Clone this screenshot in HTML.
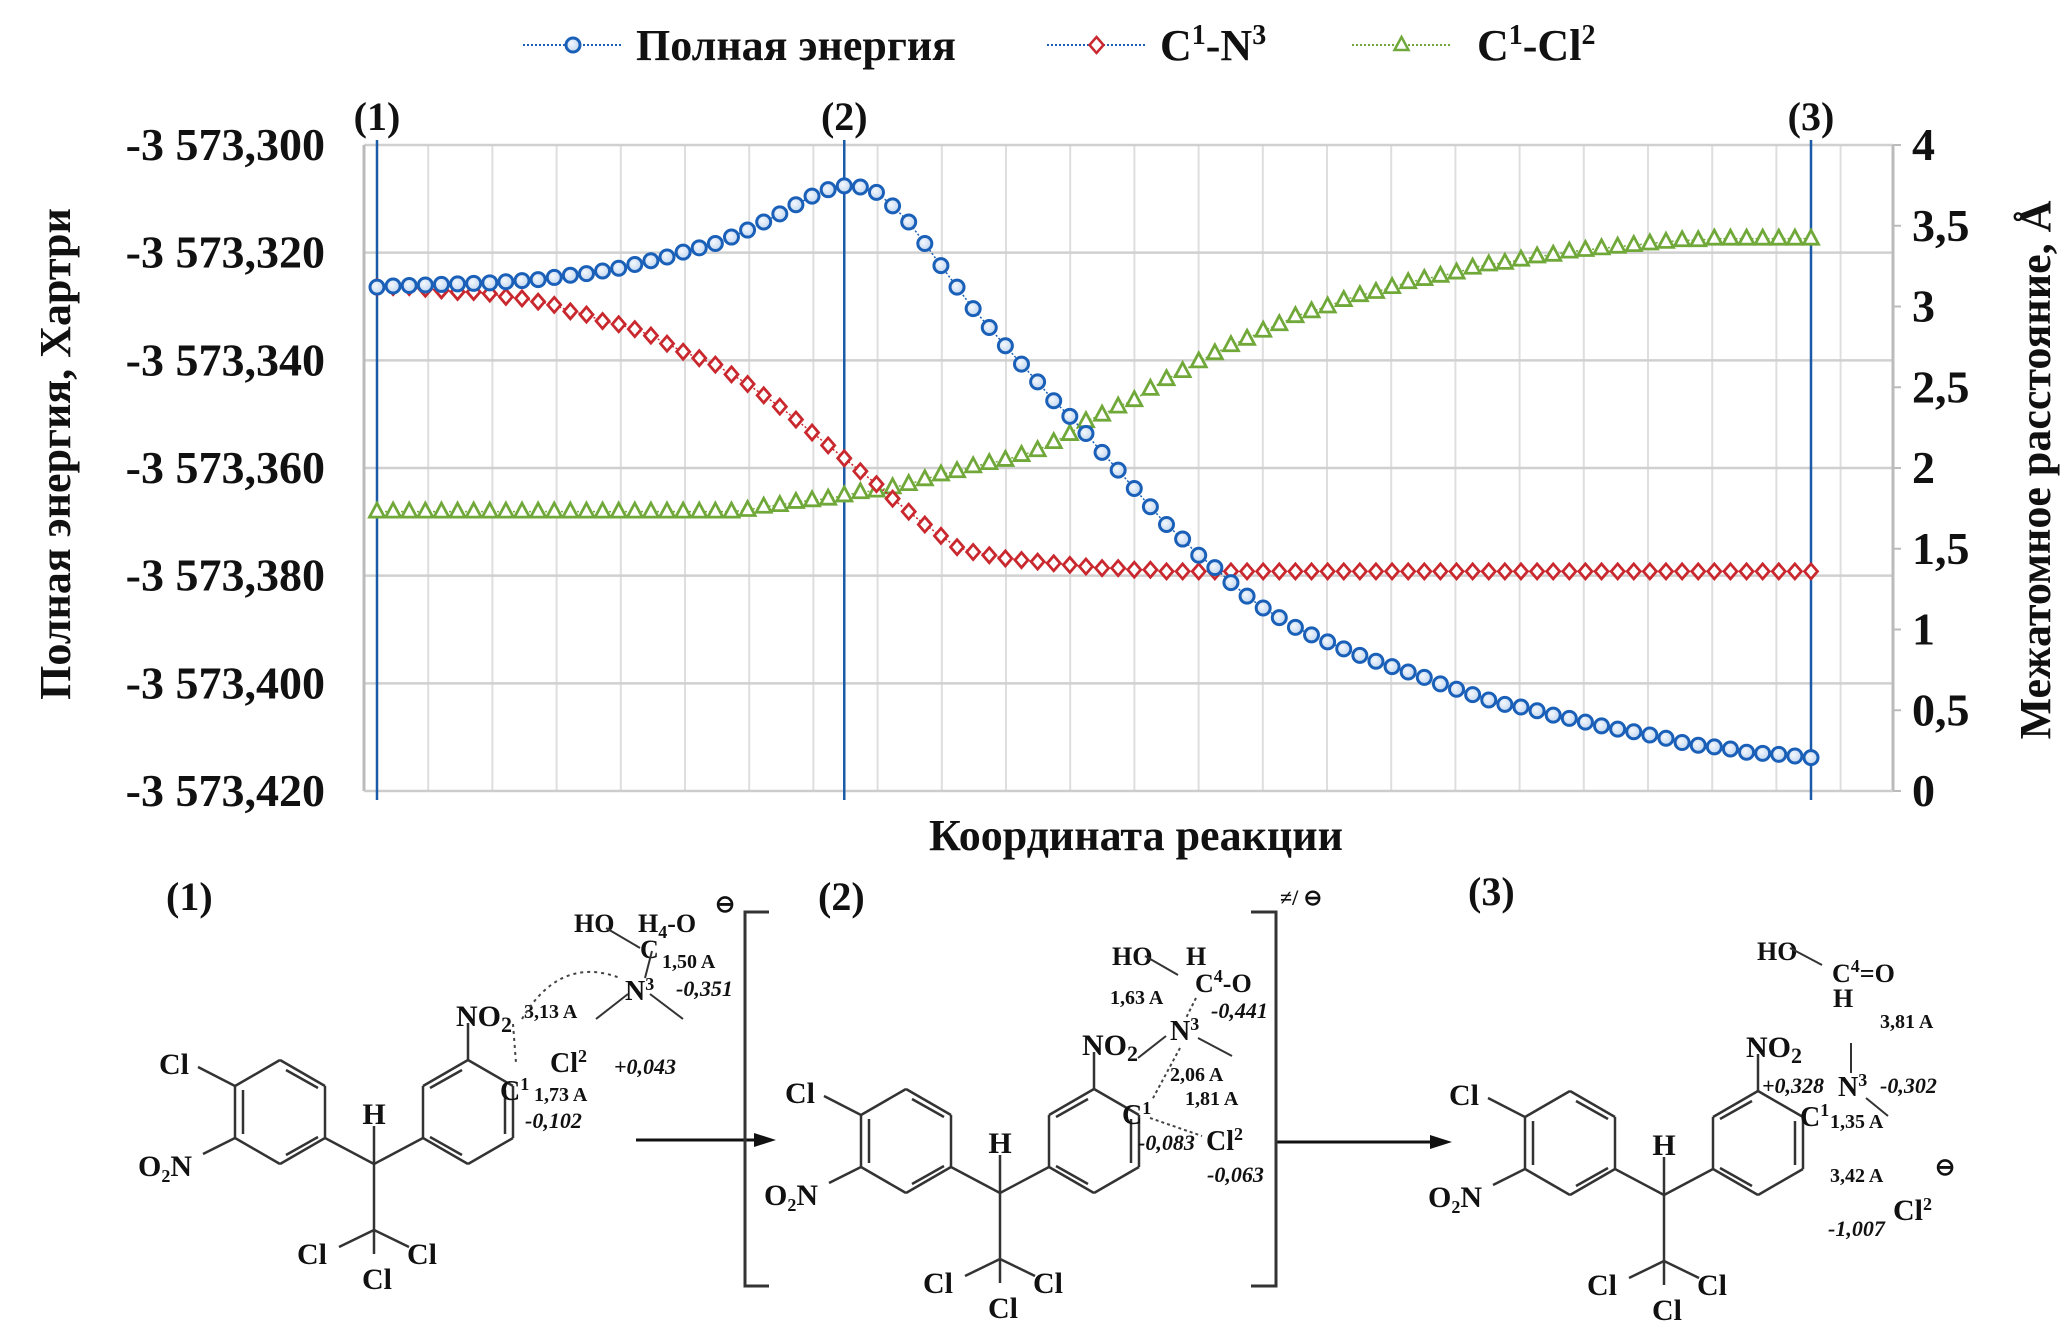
<!DOCTYPE html>
<html><head><meta charset="utf-8"><style>
html,body{margin:0;padding:0;background:#fff;}
svg{display:block;}
text{font-family:"Liberation Serif",serif;font-weight:bold;fill:#111;}
.it{font-style:italic;}
</style></head><body>
<svg id="chart" width="2067" height="1326" viewBox="0 0 2067 1326" xmlns="http://www.w3.org/2000/svg">
<rect width="2067" height="1326" fill="#fff"/>
<g id="grid"></g>
<g id="axes"></g>
<g id="series"></g>
<g id="legend"></g>
<text x="60" y="454" font-size="44" text-anchor="middle" dominant-baseline="middle" transform="rotate(-90 60 454)">Полная энергия, Хартри</text>
<text x="2040" y="470" font-size="44" text-anchor="middle" dominant-baseline="middle" transform="rotate(-90 2040 470)">Межатомное расстояние, Å</text>
<text x="1136" y="850" font-size="44" text-anchor="middle">Координата реакции</text>
<g id="mol"></g>
</svg>
<script>
const NS="http://www.w3.org/2000/svg";
const energy=[-3573.3264,-3573.3262,-3573.3261,-3573.3260,-3573.3259,-3573.3258,-3573.3257,-3573.3256,-3573.3254,-3573.3252,-3573.3250,-3573.3246,-3573.3242,
-3573.3239,-3573.3234,-3573.3229,-3573.3222,-3573.3215,-3573.3208,-3573.3199,-3573.3191,-3573.3183,-3573.3171,-3573.3158,-3573.3143,-3573.3128,-3573.3111,-3573.3095,-3573.3083,-3573.3076,-3573.3078,-3573.3088,-3573.3113,-3573.3143,-3573.3183,-3573.3224,-3573.3264,-3573.3304,-3573.3339,-3573.3373,-3573.3407,-3573.3440,
-3573.3475,-3573.3504,-3573.3536,-3573.3571,-3573.3604,-3573.3638,-3573.3672,-3573.3705,-3573.3732,-3573.3762,-3573.3785,-3573.3813,-3573.3838,-3573.3860,-3573.3878,-3573.3896,-3573.3910,-3573.3923,-3573.3936,-3573.3948,-3573.3959,-3573.3969,-3573.3979,-3573.3989,-3573.4001,-3573.4011,-3573.4021,-3573.4031,-3573.4039,-3573.4044,-3573.4051,-3573.4059,-3573.4065,-3573.4072,-3573.4079,-3573.4085,-3573.4090,-3573.4096,-3573.4102,-3573.4110,-3573.4115,-3573.4118,-3573.4122,-3573.4128,-3573.4130,-3573.4132,-3573.4135,-3573.4138];
const distCN=[3.12,3.12,3.12,3.11,3.10,3.09,3.09,3.08,3.06,3.05,3.03,3.01,2.97,2.95,2.91,2.89,2.86,2.82,2.77,2.72,2.68,2.64,2.58,2.52,2.45,2.38,2.30,2.22,2.14,2.06,
1.98,1.90,1.81,1.73,1.65,1.58,1.51,1.48,1.46,1.44,1.43,1.42,1.41,1.40,1.39,1.38,1.38,1.37,1.37,
1.36,1.36,1.36,1.36,1.36,1.36,1.36,1.36,1.36,1.36,1.36,1.36,1.36,1.36,1.36,1.36,1.36,1.36,1.36,1.36,1.36,1.36,1.36,1.36,1.36,1.36,1.36,1.36,1.36,1.36,1.36,1.36,1.36,1.36,1.36,1.36,1.36,1.36,1.36,1.36,1.36];
const distCCl=[1.73,1.73,1.73,1.73,1.73,1.73,1.73,1.73,1.73,1.73,1.73,1.73,1.73,1.73,1.73,1.73,1.73,1.73,1.73,1.73,1.73,1.73,1.73,
1.74,1.76,1.77,1.79,1.80,1.81,1.83,1.85,1.86,1.88,1.90,1.93,1.96,1.98,2.01,2.03,2.05,2.08,2.11,
2.16,2.21,2.29,2.33,2.38,2.42,2.49,2.55,2.60,2.66,2.71,2.76,2.80,2.85,2.89,2.94,2.97,3.00,3.04,3.07,3.09,3.12,3.15,3.17,3.19,3.21,3.24,3.26,3.27,3.29,3.31,3.32,3.34,3.35,3.36,3.37,3.38,3.39,3.40,3.41,3.41,3.42,3.42,3.42,3.42,3.42,3.42,3.42];
const leftTicks=["-3 573,300","-3 573,320","-3 573,340","-3 573,360","-3 573,380","-3 573,400","-3 573,420"];
const leftTickVals=[-3573.300,-3573.320,-3573.340,-3573.360,-3573.380,-3573.400,-3573.420];
const rightTicks=["0","0,5","1","1,5","2","2,5","3","3,5","4"];
const rightTickVals=[0,0.5,1,1.5,2,2.5,3,3.5,4];
const markerIdx=[0,29,89];
const markerLabels=["(1)","(2)","(3)"];

const PL=364,PR=1893,PT=145,PB=791,X0=377,X1=1811;
const N=energy.length;
function xs(i){return X0+i*(X1-X0)/(N-1);}
function yE(v){return PT+(-3573.300-v)/0.120*(PB-PT);}
function yR(v){return PB-v/4*(PB-PT);}
function mk(tag,attrs,parent,txt){const e=document.createElementNS(NS,tag);for(const k in attrs)e.setAttribute(k,attrs[k]);if(txt!==undefined)e.textContent=txt;parent.appendChild(e);return e;}
const G=document.getElementById('grid'),A=document.getElementById('axes'),S=document.getElementById('series'),L=document.getElementById('legend'),M=document.getElementById('mol');

for(let x=PL+64.2;x<PR-5;x+=64.2){const l=mk('line',{x1:x,y1:PT,x2:x,y2:PB,stroke:'#dedede','stroke-width':2},G);

}
leftTickVals.forEach((v,k)=>{const y=yE(v);
const l=mk('line',{x1:PL,y1:y,x2:PR,y2:y,stroke:'#d0d0d0','stroke-width':2.5},G);


const t=mk('text',{x:325,y:y+15,'font-size':46,'text-anchor':'end'},A,leftTicks[k]);

});
rightTickVals.forEach((v,k)=>{const y=yR(v);
const tm=mk('line',{x1:PR,y1:y,x2:PR+8,y2:y,stroke:'#bbb','stroke-width':2},A);


const t=mk('text',{x:1912,y:y+15,'font-size':46},A,rightTicks[k]);

});
const la=mk('line',{x1:PL,y1:PT,x2:PL,y2:PB,stroke:'#bbb','stroke-width':3},A);


const ra=mk('line',{x1:PR,y1:PT,x2:PR,y2:PB,stroke:'#bbb','stroke-width':3},A);


const ba=mk('line',{x1:PL,y1:PB,x2:PR,y2:PB,stroke:'#ccc','stroke-width':2},A);


markerIdx.forEach((i,k)=>{const x=xs(i);
const l=mk('line',{x1:x,y1:140,x2:x,y2:800,stroke:'#1a5aa8','stroke-width':2.5},A);


const t=mk('text',{x:x,y:130,'font-size':40,'text-anchor':'middle'},A,markerLabels[k]);

});

const defs=mk('defs',{},S);
const gr=mk('radialGradient',{id:'bg',cx:'0.4',cy:'0.4',r:'0.7'},defs);
mk('stop',{offset:'0','stop-color':'#f4f8fd'},gr);mk('stop',{offset:'1','stop-color':'#b8d0ee'},gr);

function series(vals,yf,color,shape,name){
 const pts=vals.map((v,i)=>xs(i)+','+yf(v)).join(' ');
 const pl=mk('polyline',{points:pts,fill:'none',stroke:color,'stroke-width':1.5,'stroke-dasharray':'2 2'},S);
 
 
 vals.forEach((v,i)=>{const x=xs(i),y=yf(v);let e;
  if(shape==='c')e=mk('circle',{cx:x,cy:y,r:7,fill:'url(#bg)',stroke:color,'stroke-width':3},S);
  else if(shape==='d')e=mk('polygon',{points:`${x},${y-7.5} ${x+6.5},${y} ${x},${y+7.5} ${x-6.5},${y}`,fill:'#fff',stroke:color,'stroke-width':2.8},S);
  else e=mk('polygon',{points:`${x},${y-8.5} ${x+7.5},${y+5.5} ${x-7.5},${y+5.5}`,fill:'#fff',stroke:color,'stroke-width':2.8},S);
  
  });
}
series(distCCl,yR,'#70a83a','t','c1-cl2');
series(distCN,yR,'#c8282e','d','c1-n3');
series(energy,yE,'#1a60b8','c','total-energy');

function legendItem(x1,x2,tx,color,shape,label,name){const y=45;
 const l=mk('line',{x1:x1,y1:y,x2:x2,y2:y,stroke:shape==='t'?'#70a83a':'#1a60b8','stroke-width':2,'stroke-dasharray':'2 2'},L);
 
 
 const cx=(x1+x2)/2;let e;
 if(shape==='c')e=mk('circle',{cx:cx,cy:y,r:7,fill:'url(#bg)',stroke:color,'stroke-width':3},L);
 else if(shape==='d')e=mk('polygon',{points:`${cx},${y-8} ${cx+7},${y} ${cx},${y+8} ${cx-7},${y}`,fill:'#fff',stroke:color,'stroke-width':2.5},L);
 else e=mk('polygon',{points:`${cx},${y-8} ${cx+7},${y+5} ${cx-7},${y+5}`,fill:'#fff',stroke:color,'stroke-width':2.5},L);
 
 
 const t=mk('text',{x:tx,y:y+15,'font-size':44},L);t.innerHTML=label;
 
 }
legendItem(523,623,636,'#1a60b8','c','Полная энергия','total-energy');
legendItem(1047,1146,1160,'#c8282e','d','C<tspan dy="-16" font-size="28">1</tspan><tspan dy="16">-N</tspan><tspan dy="-16" font-size="28">3</tspan>','c1-n3');
legendItem(1352,1451,1477,'#70a83a','t','C<tspan dy="-16" font-size="28">1</tspan><tspan dy="16">-Cl</tspan><tspan dy="-16" font-size="28">2</tspan>','c1-cl2');

/* molecules */
const bonds=[[-94,-104,-49,-78],[-49,-78,-49,-26],[-49,-26,-94,0],[-94,0,-139,-26],[-139,-26,-139,-78],[-139,-78,-94,-104],
[94,-104,49,-78],[49,-78,49,-26],[49,-26,94,0],[94,0,139,-26],[139,-26,139,-78],[139,-78,94,-104],
[-49,-26,0,0],[0,0,49,-26],[0,0,0,-38],[0,0,0,66],[0,66,-35,83],[0,66,35,83],[0,66,0,90],
[-139,-78,-176,-97],[-139,-26,-171,-10],[94,-104,94,-141],
[-131,-74,-131,-30],[-88,-94,-56,-76],[-56,-27,-88,-9],[88,-94,56,-76],[56,-27,88,-9],[131,-30,131,-74]];
const labs=[["Cl",-200,-90],["O₂N",-209,12],["H",0,-40],["Cl",-62,100],["Cl",48,100],["Cl",3,125]];
function drawMol(cx,cy){
 bonds.forEach(b=>{const l=mk('line',{x1:cx+b[0],y1:cy+b[1],x2:cx+b[2],y2:cy+b[3],stroke:'#333','stroke-width':2.5},M);
  
  });
 labs.forEach(s=>{const t=mk('text',{x:cx+s[1],y:cy+s[2],'font-size':30,'text-anchor':'middle'},M,s[0]);
  
  });
 const t=mk('text',{x:cx+110,y:cy-138,'font-size':30,'text-anchor':'middle'},M);t.innerHTML='NO<tspan font-size="22" dy="6">2</tspan>';
 
 
}
drawMol(374,1164);drawMol(1000,1193);drawMol(1664,1195);

function T(x,y,s,fs,color,it,name){const t=mk('text',{x:x,y:y,'font-size':fs,fill:color||'#111'},M);t.innerHTML=s;if(it)t.setAttribute('font-style','italic');
 
 return t;}
const sup=(s)=>`<tspan dy="-10" font-size="18">${s}</tspan><tspan dy="10"> </tspan>`;
// stage 1
T(166,910,'(1)',40,null,0,'stage-1-label');
T(574,932,'HO',26,null,0,'s1-ho');
T(638,932,'H<tspan font-size="18" dy="6">4</tspan><tspan dy="-6">-O</tspan>',26,null,0,'s1-h4o');
T(715,912,'⊖',24,null,0,'s1-charge');
T(640,958,'C',26,null,0,'s1-c4');
T(662,968,'1,50 A',20,null,0,'s1-dist-150');
T(625,1000,'N'+sup('3'),28,null,0,'s1-n3');
T(676,996,'-0,351',22,'#2a2a9a',1,'s1-charge-n3');
T(524,1018,'3,13 A',20,null,0,'s1-dist-313');
T(500,1100,'C'+sup('1'),28,null,0,'s1-c1');
T(550,1072,'Cl'+sup('2'),28,null,0,'s1-cl2');
T(614,1074,'+0,043',22,'#e01818',1,'s1-charge-cl2');
T(534,1101,'1,73 A',20,null,0,'s1-dist-173');
T(525,1128,'-0,102',22,'#2a2a9a',1,'s1-charge-c1');
[[596,1019,628,994],[650,994,683,1019],[652,951,645,978],[606,928,640,948]].forEach(b=>{const l=mk('line',{x1:b[0],y1:b[1],x2:b[2],y2:b[3],stroke:'#333','stroke-width':2},M);
 
 });
const arc=mk('path',{d:'M522 1019 Q560 955 620 978',fill:'none',stroke:'#444','stroke-width':2,'stroke-dasharray':'3 4'},M);


const arc2=mk('path',{d:'M513 1024 L516 1063',fill:'none',stroke:'#444','stroke-width':2,'stroke-dasharray':'3 4'},M);


[[636,776,1140],[1276,1452,1142]].forEach(a=>{const l=mk('line',{x1:a[0],y1:a[2],x2:a[1]-14,y2:a[2],stroke:'#111','stroke-width':3},M);
 
 
 const h=mk('polygon',{points:`${a[1]},${a[2]} ${a[1]-22},${a[2]-7} ${a[1]-22},${a[2]+7}`,fill:'#111'},M);
 
 });
const br1=mk('path',{d:'M769 912 H745 V1286 H769',fill:'none',stroke:'#333','stroke-width':3},M);


const br2=mk('path',{d:'M1251 912 H1276 V1286 H1251',fill:'none',stroke:'#333','stroke-width':3},M);


T(1280,905,'≠/ ⊖',22,null,0,'ts-symbol');
// stage 2
T(818,910,'(2)',40,null,0,'stage-2-label');
T(1112,965,'HO',26,null,0,'s2-ho');
T(1186,965,'H',26,null,0,'s2-h');
T(1195,992,'C<tspan font-size="18" dy="-10">4</tspan><tspan dy="10">-O</tspan>',26,null,0,'s2-c4o');
T(1110,1004,'1,63 A',20,null,0,'s2-dist-163');
T(1170,1040,'N'+sup('3'),28,null,0,'s2-n3');
T(1211,1018,'-0,441',22,'#2a2a9a',1,'s2-charge-n3');
T(1170,1081,'2,06 A',20,null,0,'s2-dist-206');
T(1122,1124,'C'+sup('1'),28,null,0,'s2-c1');
T(1185,1105,'1,81 A',20,null,0,'s2-dist-181');
T(1206,1150,'Cl'+sup('2'),28,null,0,'s2-cl2');
T(1138,1150,'-0,083',22,'#2a2a9a',1,'s2-charge-c1');
T(1207,1182,'-0,063',22,'#2a2a9a',1,'s2-charge-cl2');
[[1145,956,1178,975],[1198,1038,1232,1056],[1138,1058,1166,1036]].forEach(b=>{const l=mk('line',{x1:b[0],y1:b[1],x2:b[2],y2:b[3],stroke:'#333','stroke-width':2},M);
 
 });
[[1196,998,1186,1018],[1180,1048,1152,1100],[1150,1118,1202,1136]].forEach(b=>{const l=mk('line',{x1:b[0],y1:b[1],x2:b[2],y2:b[3],stroke:'#444','stroke-width':2,'stroke-dasharray':'3 3'},M);
 
 });
// stage 3
T(1468,905,'(3)',40,null,0,'stage-3-label');
T(1757,960,'HO',26,null,0,'s3-ho');
T(1832,982,'C<tspan font-size="18" dy="-10">4</tspan><tspan dy="10">=O</tspan>',26,null,0,'s3-c4o');
T(1833,1007,'H',26,null,0,'s3-h');
T(1880,1028,'3,81 A',20,null,0,'s3-dist-381');
T(1762,1093,'+0,328',22,'#e01818',1,'s3-charge-c1');
T(1838,1096,'N'+sup('3'),28,null,0,'s3-n3');
T(1880,1093,'-0,302',22,'#2a2a9a',1,'s3-charge-n3');
T(1800,1126,'C'+sup('1'),28,null,0,'s3-c1');
T(1830,1128,'1,35 A',20,null,0,'s3-dist-135');
T(1830,1182,'3,42 A',20,null,0,'s3-dist-342');
T(1935,1175,'⊖',24,null,0,'s3-charge');
T(1893,1220,'Cl'+sup('2'),30,null,0,'s3-cl2');
T(1828,1236,'-1,007',22,'#2a2a9a',1,'s3-charge-cl2');
[[1851,1043,1851,1073],[1790,948,1822,965],[1866,1098,1888,1116]].forEach(b=>{const l=mk('line',{x1:b[0],y1:b[1],x2:b[2],y2:b[3],stroke:'#333','stroke-width':2},M);
 
 });
</script>
</body></html>
